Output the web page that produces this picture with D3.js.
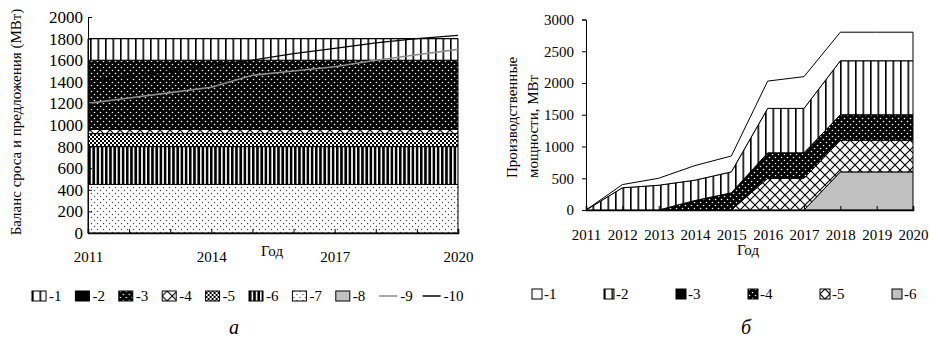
<!DOCTYPE html>
<html>
<head>
<meta charset="utf-8">
<script src="https://cdn.jsdelivr.net/npm/d3@7"></script>
<style>
  body { margin: 0; background: #fff; }
  text { font-family: "Liberation Serif", "Times New Roman", serif; fill: #000; }
</style>
</head>
<body>
<svg id="chart" width="929" height="342"></svg>
<script>
// годы
var yearsA = [2011, 2012, 2013, 2014, 2015, 2016, 2017, 2018, 2019, 2020];
var yearsB = [2011, 2012, 2013, 2014, 2015, 2016, 2017, 2018, 2019, 2020];

// левый график (а): слои баланса, МВт
var a1 = [200, 200, 200, 200, 200, 200, 200, 200, 200, 200];
var a2 = [0, 0, 0, 0, 0, 0, 0, 0, 0, 0];
var a3 = [640, 640, 640, 640, 640, 640, 640, 640, 640, 640];
var a4 = [40, 40, 40, 40, 40, 40, 40, 40, 40, 40];
var a5 = [120, 120, 120, 120, 120, 120, 120, 120, 120, 120];
var a6 = [350, 350, 350, 350, 350, 350, 350, 350, 350, 350];
var a7 = [450, 450, 450, 450, 450, 450, 450, 450, 450, 450];
var a8 = [0, 0, 0, 0, 0, 0, 0, 0, 0, 0];
var line9 = [1200, 1250, 1300, 1350, 1460, 1500, 1540, 1600, 1650, 1700];
var line10 = [1400, 1450, 1500, 1550, 1600, 1660, 1710, 1760, 1800, 1830];
var ticksA = [0, 200, 400, 600, 800, 1000, 1200, 1400, 1600, 1800, 2000];
var yearLabelsA = [2011, 2014, 2017, 2020];

// правый график (б): производственные мощности, МВт
var b1 = [0, 50, 110, 230, 250, 430, 500, 450, 450, 450];
var b2 = [0, 350, 390, 320, 330, 700, 700, 850, 850, 850];
var b3 = [0, 0, 0, 0, 0, 0, 0, 0, 0, 0];
var b4 = [0, 0, 0, 150, 270, 400, 400, 400, 400, 400];
var b5 = [0, 0, 0, 0, 0, 500, 500, 500, 500, 500];
var b6 = [0, 0, 0, 0, 0, 0, 0, 600, 600, 600];
var ticksB = [0, 500, 1000, 1500, 2000, 2500, 3000];

var svg = d3.select("#chart");
var defs = svg.append("defs");

/* Штриховки */
function pattern(id, w, h, bg) {
  var p = defs.append("pattern").attr("id", id)
      .attr("patternUnits", "userSpaceOnUse")
      .attr("width", w).attr("height", h);
  p.append("rect").attr("width", w).attr("height", h).attr("fill", bg);
  return p;
}
var p = pattern("vstripe", 7.5, 10, "#fff");
p.append("rect").attr("x", 0).attr("width", 1.6).attr("height", 10).attr("fill", "#000");

p = pattern("vbold", 4.2, 10, "#fff");
p.append("rect").attr("x", 0).attr("width", 2.6).attr("height", 10).attr("fill", "#000");

p = pattern("blackdots", 6, 6, "#000");
p.append("circle").attr("cx", 1.5).attr("cy", 1.5).attr("r", 0.8).attr("fill", "#fff");
p.append("circle").attr("cx", 4.5).attr("cy", 4.5).attr("r", 0.8).attr("fill", "#fff");

p = pattern("checker", 4, 4, "#fff");
p.append("rect").attr("width", 2).attr("height", 2).attr("fill", "#000");
p.append("rect").attr("x", 2).attr("y", 2).attr("width", 2).attr("height", 2).attr("fill", "#000");

p = pattern("cross", 10, 10, "#fff");
p.append("path").attr("d", "M0,0L10,10M10,0L0,10").attr("stroke", "#000").attr("stroke-width", 1.2);

p = pattern("lightdots", 6, 6, "#fff");
p.append("circle").attr("cx", 1.5).attr("cy", 1.5).attr("r", 0.7).attr("fill", "#444");
p.append("circle").attr("cx", 4.5).attr("cy", 4.5).attr("r", 0.7).attr("fill", "#444");

var fillA = {a1: "url(#vstripe)", a2: "#000", a3: "url(#blackdots)", a4: "url(#cross)",
             a5: "url(#checker)", a6: "url(#vbold)", a7: "url(#lightdots)", a8: "#c0c0c0"};
var fillB = {b1: "#fff", b2: "url(#vstripe)", b3: "#000", b4: "url(#blackdots)",
             b5: "url(#cross)", b6: "#c0c0c0"};

/* ===== Левый график ===== */
var xA = d3.scaleLinear().domain([2011, 2020]).range([88, 458]);
var yA = d3.scaleLinear().domain([0, 2000]).range([233, 17]);

var dataA = yearsA.map(function(yr, i) {
  return {year: yr, a1: a1[i], a2: a2[i], a3: a3[i], a4: a4[i], a5: a5[i], a6: a6[i], a7: a7[i], a8: a8[i]};
});
var stackA = d3.stack().keys(["a7", "a6", "a5", "a4", "a3", "a2", "a1", "a8"])(dataA);
var areaA = d3.area()
    .x(function(d) { return xA(d.data.year); })
    .y0(function(d) { return yA(d[0]); })
    .y1(function(d) { return yA(d[1]); });

svg.append("g").selectAll("path")
  .data(stackA)
  .enter().append("path")
    .attr("d", areaA)
    .attr("fill", function(d) { return fillA[d.key]; })
    .attr("stroke", "#000")
    .attr("stroke-width", 1);

var lineA = d3.line()
    .x(function(d, i) { return xA(yearsA[i]); })
    .y(function(d) { return yA(d); });
svg.append("path").attr("d", lineA(line9)).attr("fill", "none").attr("stroke", "#8c8c8c").attr("stroke-width", 1.6);
svg.append("path").attr("d", lineA(line10)).attr("fill", "none").attr("stroke", "#000").attr("stroke-width", 1.3);

svg.append("g")
    .attr("transform", "translate(88,0)")
    .call(d3.axisLeft(yA).tickValues(ticksA).tickSize(-4).tickPadding(5).tickFormat(d3.format("d")))
    .call(function(g) { g.selectAll("text").style("font-size", "17px"); });

svg.append("g")
    .attr("transform", "translate(0,233)")
    .call(d3.axisBottom(xA).tickValues(yearsA).tickSize(-4).tickPadding(0)
      .tickFormat(function(d) { return yearLabelsA.indexOf(d) >= 0 ? d : ""; }))
    .call(function(g) {
      g.select(".domain").attr("stroke-width", 1.6);
      g.selectAll("text").attr("y", 18).style("font-size", "15px");
    });

svg.append("text").attr("x", 272).attr("y", 256).attr("text-anchor", "middle")
    .style("font-size", "15px").text("Год");
svg.append("text").attr("transform", "translate(21,122) rotate(-90)")
    .attr("text-anchor", "middle").style("font-size", "15px")
    .text("Баланс сроса и предложения (МВт)");

/* Легенда а */
var legA = [
  {t: "-1", f: fillA.a1}, {t: "-2", f: fillA.a2}, {t: "-3", f: fillA.a3}, {t: "-4", f: fillA.a4},
  {t: "-5", f: fillA.a5}, {t: "-6", f: fillA.a6}, {t: "-7", f: fillA.a7}, {t: "-8", f: fillA.a8},
  {t: "-9", line: "#8c8c8c"}, {t: "-10", line: "#000"}
];
var la = svg.append("g").selectAll("g")
  .data(legA)
  .enter().append("g")
    .attr("transform", function(d, i) { return "translate(" + (32 + i * 43.4) + ",296)"; });
la.filter(function(d) { return !d.line; }).append("rect")
    .attr("x", 0).attr("y", -5).attr("width", 14).attr("height", 10)
    .attr("fill", function(d) { return d.f; }).attr("stroke", "#000");
la.filter(function(d) { return d.line; }).append("line")
    .attr("x1", 0).attr("x2", 18).attr("stroke", function(d) { return d.line; }).attr("stroke-width", 1.5);
la.append("text").attr("x", function(d) { return d.line ? 21 : 17; }).attr("dy", "0.35em")
    .style("font-size", "15px").text(function(d) { return d.t; });

svg.append("text").attr("x", 234).attr("y", 334).attr("text-anchor", "middle")
    .style("font-size", "20px").style("font-style", "italic").text("а");

/* ===== Правый график ===== */
var xB = d3.scaleLinear().domain([2011, 2020]).range([586, 913]);
var yB = d3.scaleLinear().domain([0, 3000]).range([210, 19.5]);

var dataB = yearsB.map(function(yr, i) {
  return {year: yr, b1: b1[i], b2: b2[i], b3: b3[i], b4: b4[i], b5: b5[i], b6: b6[i]};
});
var stackB = d3.stack().keys(["b6", "b5", "b4", "b3", "b2", "b1"])(dataB);
var areaB = d3.area()
    .x(function(d) { return xB(d.data.year); })
    .y0(function(d) { return yB(d[0]); })
    .y1(function(d) { return yB(d[1]); });

svg.append("g").selectAll("path")
  .data(stackB)
  .enter().append("path")
    .attr("d", areaB)
    .attr("fill", function(d) { return fillB[d.key]; })
    .attr("stroke", "#000")
    .attr("stroke-width", 1);

svg.append("g")
    .attr("transform", "translate(586,0)")
    .call(d3.axisLeft(yB).tickValues(ticksB).tickSize(4).tickPadding(8).tickFormat(d3.format("d")))
    .call(function(g) { g.selectAll("text").style("font-size", "15px"); });

svg.append("g")
    .attr("transform", "translate(0,210)")
    .call(d3.axisBottom(xB).tickValues(yearsB).tickSize(-4).tickPadding(0).tickFormat(d3.format("d")))
    .call(function(g) {
      g.select(".domain").attr("stroke-width", 1.6);
      g.selectAll("text").attr("y", 19).style("font-size", "15px");
    });

svg.append("text").attr("x", 748).attr("y", 255).attr("text-anchor", "middle")
    .style("font-size", "15px").text("Год");
svg.append("text").attr("transform", "translate(517,178) rotate(-90)")
    .attr("text-anchor", "start").style("font-size", "15px").text("Производственные");
svg.append("text").attr("transform", "translate(538,178) rotate(-90)")
    .attr("text-anchor", "start").style("font-size", "15px").text("мощности, МВт");

/* Легенда б */
var legB = [
  {t: "-1", f: fillB.b1}, {t: "-2", f: fillB.b2}, {t: "-3", f: fillB.b3},
  {t: "-4", f: fillB.b4}, {t: "-5", f: fillB.b5}, {t: "-6", f: fillB.b6}
];
var lb = svg.append("g").selectAll("g")
  .data(legB)
  .enter().append("g")
    .attr("transform", function(d, i) { return "translate(" + (532 + i * 72) + ",294)"; });
lb.append("rect")
    .attr("x", 0).attr("y", -5).attr("width", 10).attr("height", 10)
    .attr("fill", function(d) { return d.f; }).attr("stroke", "#000");
lb.append("text").attr("x", 12).attr("dy", "0.35em")
    .style("font-size", "15px").text(function(d) { return d.t; });

svg.append("text").attr("x", 746).attr("y", 334).attr("text-anchor", "middle")
    .style("font-size", "20px").style("font-style", "italic").text("б");
</script>
</body>
</html>
